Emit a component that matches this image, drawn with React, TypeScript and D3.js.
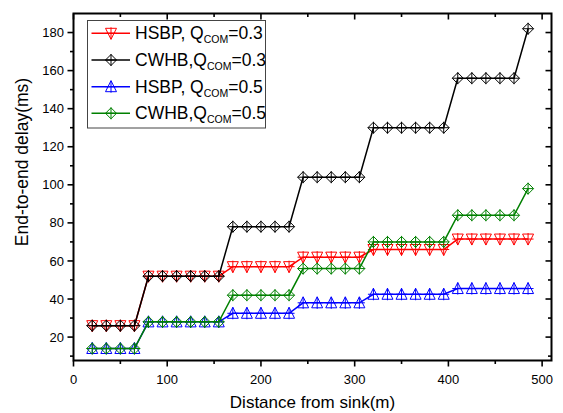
import React from "react";
import * as d3 from "d3";

const distance = [20, 35, 50, 65, 80, 95, 110, 125, 140, 155, 170, 185, 200, 215, 230, 245, 260, 275, 290, 305, 320, 335, 350, 365, 380, 395, 410, 425, 440, 455, 470, 485];
const hsbp03 = [26, 26, 26, 26, 52, 52, 52, 52, 52, 52, 57, 57, 57, 57, 57, 62, 62, 62, 62, 62, 66, 66, 66, 66, 66, 66, 71.5, 71.5, 71.5, 71.5, 71.5, 71.5];
const cwhb03 = [26, 26, 26, 26, 52, 52, 52, 52, 52, 52, 78, 78, 78, 78, 78, 104, 104, 104, 104, 104, 130, 130, 130, 130, 130, 130, 156, 156, 156, 156, 156, 182];
const hsbp05 = [14, 14, 14, 14, 28, 28, 28, 28, 28, 28, 32.5, 32.5, 32.5, 32.5, 32.5, 38, 38, 38, 38, 38, 42.5, 42.5, 42.5, 42.5, 42.5, 42.5, 45.5, 45.5, 45.5, 45.5, 45.5, 45.5];
const cwhb05 = [14, 14, 14, 14, 28, 28, 28, 28, 28, 28, 42, 42, 42, 42, 42, 56, 56, 56, 56, 56, 70, 70, 70, 70, 70, 70, 84, 84, 84, 84, 84, 98];

const xMajor = [0, 100, 200, 300, 400, 500];
const xMinor = [50, 150, 250, 350, 450];
const yMajor = [20, 40, 60, 80, 100, 120, 140, 160, 180];
const yMinor = [10, 30, 50, 70, 90, 110, 130, 150, 170];

const seriesNames = ["HSBP, Q", "CWHB,Q", "HSBP, Q", "CWHB,Q"];
const seriesSuffix = ["=0.3", "=0.3", "=0.5", "=0.5"];
const seriesColors = ["#ff0000", "#000000", "#0000ff", "#008000"];
const seriesShapes = ["down", "diamond", "up", "diamond"];
const seriesValues = [hsbp03, cwhb03, hsbp05, cwhb05];

const W = 563, H = 413;
const L = 73.5, R = 551.5, T = 13.5, B = 360.5;

function Marker({ shape, color, cx, cy }: { shape: string; color: string; cx: number; cy: number }) {
  const s = 5.5;
  let d = "";
  if (shape === "diamond") d = `M${cx},${cy - s}L${cx + s},${cy}L${cx},${cy + s}L${cx - s},${cy}Z`;
  else if (shape === "down") d = `M${cx - s},${cy - 5}L${cx + s},${cy - 5}L${cx},${cy + 6}Z`;
  else d = `M${cx - s},${cy + 5}L${cx + s},${cy + 5}L${cx},${cy - 6}Z`;
  return (
    <g stroke={color} strokeWidth={1} fill="none">
      <path d={d} />
      <path d={`M${cx - s},${cy}L${cx + s},${cy}M${cx},${cy - s - 0.5}L${cx},${cy + s + 0.5}`} />
    </g>
  );
}

export default function App() {
  const x = d3.scaleLinear().domain([0, 510]).range([L, R]);
  const y = d3.scaleLinear().domain([7.7, 190]).range([B, T]);
  const line = d3.line<number>().x((_, i) => x(distance[i])).y((v) => y(v));
  const font = "Arial, 'Liberation Sans', sans-serif";

  const legendY = [33.3, 60, 86.7, 113.3];

  return (
    <svg width={W} height={H} style={{ position: "absolute", left: 0, top: 0 }} fontFamily={font}>
      <rect width={W} height={H} fill="#fff" />
      {seriesValues.map((vals, si) => (
        <g key={si}>
          <path d={line(vals) || ""} fill="none" stroke={seriesColors[si]} strokeWidth={1.5} />
          {vals.map((v, i) => (
            <Marker key={i} shape={seriesShapes[si]} color={seriesColors[si]} cx={x(distance[i])} cy={y(v)} />
          ))}
        </g>
      ))}
      <g stroke="#000" strokeWidth={2} fill="none">
        <path d={`M${L},${T}L${R},${T}L${R},${B}L${L},${B}Z`} />
      </g>
      <g stroke="#000" strokeWidth={1.6}>
        {xMajor.map((t) => (
          <g key={"xM" + t}>
            <line x1={x(t)} x2={x(t)} y1={B} y2={B + 6} />
            <line x1={x(t)} x2={x(t)} y1={T} y2={T + 6} />
          </g>
        ))}
        {xMinor.map((t) => (
          <g key={"xm" + t}>
            <line x1={x(t)} x2={x(t)} y1={B} y2={B + 3.5} />
            <line x1={x(t)} x2={x(t)} y1={T} y2={T + 3.5} />
          </g>
        ))}
        {yMajor.map((t) => (
          <g key={"yM" + t}>
            <line x1={L - 6} x2={L} y1={y(t)} y2={y(t)} />
            <line x1={R - 6} x2={R} y1={y(t)} y2={y(t)} />
          </g>
        ))}
        {yMinor.map((t) => (
          <g key={"ym" + t}>
            <line x1={L - 3.5} x2={L} y1={y(t)} y2={y(t)} />
            <line x1={R - 3.5} x2={R} y1={y(t)} y2={y(t)} />
          </g>
        ))}
      </g>
      <g fontSize={13} fill="#000">
        {xMajor.map((t) => (
          <text key={"xl" + t} x={x(t)} y={383.5} textAnchor="middle">{t}</text>
        ))}
        {yMajor.map((t) => (
          <text key={"yl" + t} x={L - 9.5} y={y(t) + 4.6} textAnchor="end">{t}</text>
        ))}
      </g>
      <text x={(L + R) / 2} y={408} textAnchor="middle" fontSize={17}>Distance from sink(m)</text>
      <text transform={`translate(28,162) rotate(-90)`} textAnchor="middle" fontSize={17.5}>End-to-end delay(ms)</text>
      <rect x={87.5} y={20.5} width={178} height={107.5} fill="#fff" stroke="#444" strokeWidth={1} />
      {seriesNames.map((n, i) => (
        <g key={"lg" + i}>
          <line x1={91.5} x2={130} y1={legendY[i]} y2={legendY[i]} stroke={seriesColors[i]} strokeWidth={1.5} />
          <Marker shape={seriesShapes[i]} color={seriesColors[i]} cx={111} cy={legendY[i]} />
          <text x={135} y={legendY[i] + 6} fontSize={17.5} fill="#000">
            {n}
            <tspan fontSize={10.5} dy={4}>COM</tspan>
            <tspan dy={-4}>{seriesSuffix[i]}</tspan>
          </text>
        </g>
      ))}
    </svg>
  );
}
